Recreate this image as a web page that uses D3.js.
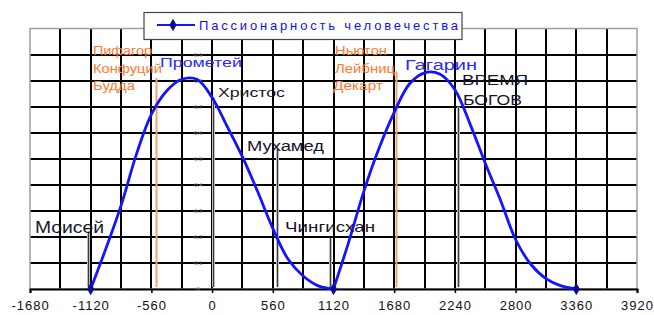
<!DOCTYPE html>
<html><head><meta charset="utf-8">
<script src="https://cdn.jsdelivr.net/npm/d3@7"></script>
<style>body{margin:0;background:#fff}svg{display:block;font-family:"Liberation Sans",Arial,sans-serif}</style>
</head><body><svg id="c" width="654" height="315"></svg>
<script>
// ---- data ----
const years = [-1120,-980,-840,-700,-560,-420,-280,-140,0,140,280,420,560,700,840,980,1120,
  1260,1400,1540,1680,1820,1960,2100,2240,2380,2520,2660,2800,2940,3080,3220,3360];
const passion = [0,0.155,0.32,0.515,0.67,0.76,0.805,0.805,0.735,0.623,0.507,0.374,0.233,0.115,0.05,0.012,0,
  0.18,0.375,0.54,0.678,0.787,0.83,0.825,0.765,0.633,0.483,0.342,0.19,0.095,0.04,0.012,0];
const seriesName = "Пассионарность человечества";
const xTicks = [-1680,-1120,-560,0,560,1120,1680,2240,2800,3360,3920];
const yTicks = [0,0.1,0.2,0.3,0.4,0.5,0.6,0.7,0.8,0.9];
const yTickLabels = ["0","0,1","0,2","0,3","0,4","0,5","0,6","0,7","0,8","0,9"];
const eventYears = [-1145,-520,10,600,1085,1700,2265];
const eventTops  = [0.22,0.81,0.735,0.54,0.195,0.835,0.70];
const eventKinds = ["hist","sage","hist","hist","hist","sage","hist"];
const labelTexts  = ["Моисей","Пифагор","Конфуций","Будда","Прометей","Христос","Мухамед","Чингисхан",
  "Ньютон","Лейбниц","Декарт","Гагарин","ВРЕМЯ","БОГОВ"];
const labelYears  = [-1634,-1099,-1099,-1099,-481,54,322,673,1134,1134,1115,1780,2306,2315];
const labelValues = [0.216,0.898,0.830,0.762,0.851,0.738,0.531,0.220,0.898,0.830,0.762,0.841,0.783,0.706];
const labelKinds  = ["hist","sage","sage","sage","myth","hist","hist","hist","sage","sage","sage","myth","hist","hist"];

// ---- styles ----
const plot = {l:30, r:637, t:28.5, b:289};
const kindFill = {hist:"#15152a", sage:"#ff7a30", myth:"#2a2aff"};
const labelSizes  = [16,12.5,12.5,12.5,13.5,13.5,14,15,12.5,12.5,12.5,15,14,14];
const labelWidths = [69,59,69,42,82,67,77,90,52,60,50,72,66,59];

const svg = d3.select("#c");
const x = d3.scaleLinear().domain([-1680,3920]).range([plot.l, plot.r]);
const y = d3.scaleLinear().domain([0,1]).range([plot.b, plot.t]);
const rx = v => Math.round(x(v));
const ry = v => Math.round(y(v));

// grid
const gridX = d3.range(-1680, 3921, 280);
const gridY = d3.range(1, 10).map(k=>k/10);
svg.append("g").selectAll("line").data(gridX.slice(1, -1)).join("line")
  .attr("x1", d=>rx(d)).attr("x2", d=>rx(d)).attr("y1", plot.t).attr("y2", plot.b)
  .attr("stroke","#000").attr("stroke-width",2);
svg.append("g").selectAll("line").data(gridY).join("line")
  .attr("x1", plot.l).attr("x2", plot.r).attr("y1", d=>ry(d)).attr("y2", d=>ry(d))
  .attr("stroke","#000").attr("stroke-width",2);
svg.append("rect").attr("x",plot.l).attr("y",plot.t).attr("width",plot.r-plot.l).attr("height",plot.b-plot.t)
  .attr("fill","none").attr("stroke","#a0a0a0").attr("stroke-width",1.5);

// x axis
const xAxis = d3.axisBottom(x).tickValues(xTicks).tickSize(4).tickPadding(8).tickFormat(d=>String(d));
const gx = svg.append("g").attr("transform",`translate(0,${plot.b})`).call(xAxis);
gx.select(".domain").attr("stroke","#000").attr("stroke-width",2);
gx.selectAll(".tick line").attr("stroke","#000").attr("stroke-width",1.5);
gx.selectAll(".tick text").attr("font-size",13).attr("fill","#111")
  .attr("font-family","'Liberation Sans',Arial,sans-serif").style("letter-spacing","1px");

// tiny y labels along year 0
svg.append("g").selectAll("text").data(yTicks).join("text")
  .attr("x", x(0)-14).attr("y", d=>y(d)+2).attr("text-anchor","middle")
  .attr("font-size",6).attr("fill","#8a8a8a").text((d,i)=>yTickLabels[i]);

// event lines
const ev = svg.append("g");
eventYears.forEach((yr,i)=>{
  const x0 = rx(yr) + 0.5;
  if (eventKinds[i]==="sage") {
    ev.append("line").attr("x1",x0).attr("x2",x0).attr("y1",y(eventTops[i])).attr("y2",plot.b-2)
      .attr("stroke","#f7a06a").attr("stroke-width",2);
  } else {
    ev.append("line").attr("x1",x0).attr("x2",x0).attr("y1",y(eventTops[i])).attr("y2",plot.b-2)
      .attr("stroke","#bdbdbd").attr("stroke-width",3);
    ev.append("line").attr("x1",x0).attr("x2",x0).attr("y1",y(eventTops[i])).attr("y2",plot.b-2)
      .attr("stroke","#3a3a3a").attr("stroke-width",1);
  }
});

// curve: split at interior zeros so each hump is smoothed on its own
const pts = years.map((yr,i)=>[yr, passion[i]]);
const segments = [];
let cur = [];
pts.forEach((p,i)=>{
  cur.push(p);
  if (p[1]===0 && i>0 && i<pts.length-1) { segments.push(cur); cur=[p]; }
});
segments.push(cur);
const line = d3.line().x(d=>x(d[0])).y(d=>y(d[1])).curve(d3.curveCatmullRom.alpha(0.5));
svg.append("g").selectAll("path").data(segments).join("path").attr("d",line).attr("fill","none")
  .attr("stroke","#1414ff").attr("stroke-width",2.8).attr("stroke-linejoin","round");
const diamond = d3.symbol().type(d3.symbolDiamond).size(45);
svg.append("g").selectAll("path").data(pts.filter(d=>d[1]===0)).join("path")
  .attr("d",diamond).attr("transform",d=>`translate(${x(d[0])},${y(d[1])})`).attr("fill","#0c0c90");

// labels
svg.append("g").selectAll("text").data(labelTexts).join("text")
  .attr("x",(d,i)=>x(labelYears[i])).attr("y",(d,i)=>y(labelValues[i]))
  .attr("font-size",(d,i)=>labelSizes[i])
  .attr("fill",(d,i)=>kindFill[labelKinds[i]])
  .attr("textLength",(d,i)=>labelWidths[i]).attr("lengthAdjust","spacingAndGlyphs")
  .text(d=>d);

// legend
const lg = svg.append("g");
lg.append("rect").attr("x",144).attr("y",12.5).attr("width",318).attr("height",27)
  .attr("fill","#fff").attr("stroke","#444").attr("stroke-width",1.2);
lg.append("line").attr("x1",157).attr("x2",195).attr("y1",25).attr("y2",25)
  .attr("stroke","#1414ff").attr("stroke-width",2);
lg.append("path").attr("d",diamond).attr("transform","translate(173,25)").attr("fill","#0c0c90");
lg.append("text").attr("x",199).attr("y",29.5).attr("font-size",13).attr("fill","#1010ff")
  .attr("textLength",259).attr("lengthAdjust","spacing").text(seriesName);
</script></body></html>
